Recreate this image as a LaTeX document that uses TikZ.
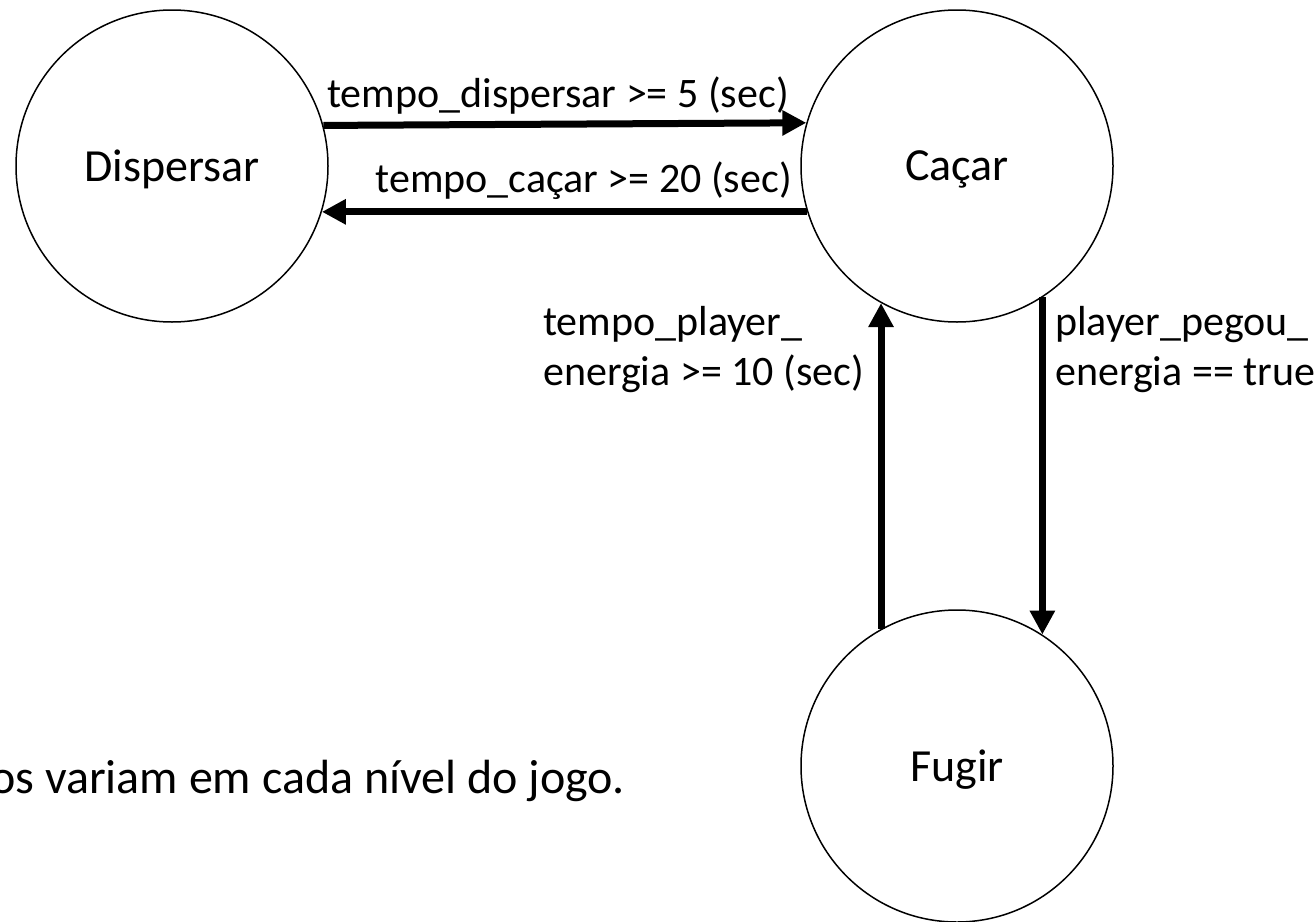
\documentclass[tikz,border=0pt]{standalone}
\usepackage{fontspec}
\setmainfont{Carlito}
\usetikzlibrary{arrows.meta}
\tikzset{
  state/.style={circle, draw, line width=1.5pt, minimum size=312pt, inner sep=0pt, text depth=0pt, font=\fontsize{46}{55}\selectfont},
  trans/.style={line width=7pt, -{Triangle[length=24pt,width=24pt]}},
  lbl/.style={font=\fontsize{42}{50}\selectfont, inner sep=0pt},
}
\begin{document}
\begin{tikzpicture}[x=1pt,y=-1pt]
\clip (0,0) rectangle (1314,921);
\useasboundingbox (0,0) rectangle (1314,921);
\node[state] (disp) at (172,166) {Dispersar};
\node[state] (cacar) at (957,166) {Caçar};
\node[state] (fugir) at (957,766) {Fugir};
\draw[trans] (disp.{asin(41/156)}) -- (cacar.{180-asin(41/156)});
\draw[trans] (cacar.{180+asin(46/156)}) -- (disp.{-asin(46/156)});
\draw[trans] (fugir.{90+asin(77/156)}) -- (cacar.{-90-asin(77/156)});
\draw[trans] (cacar.{-90+asin(83/156)}) -- (fugir.{90-asin(83/156)});
\node[lbl, anchor=base west] (l1) at (327,107) {tempo\_dispersar >= 5 (sec)};
\node[lbl, anchor=base east] (l2) at (792,192) {tempo\_caçar >= 20 (sec)};
\node[lbl, anchor=north west, align=left] (l3) at (543,306) {tempo\_player\_\\energia >= 10 (sec)};
\node[lbl, anchor=north west, align=left] (l4) at (1055,306) {player\_pegou\_\\energia == true};
\node[anchor=base west, inner sep=0pt, font=\fontsize{48}{58}\selectfont] (note) at (-10,793) {os variam em cada nível do jogo.};
\end{tikzpicture}
\end{document}
